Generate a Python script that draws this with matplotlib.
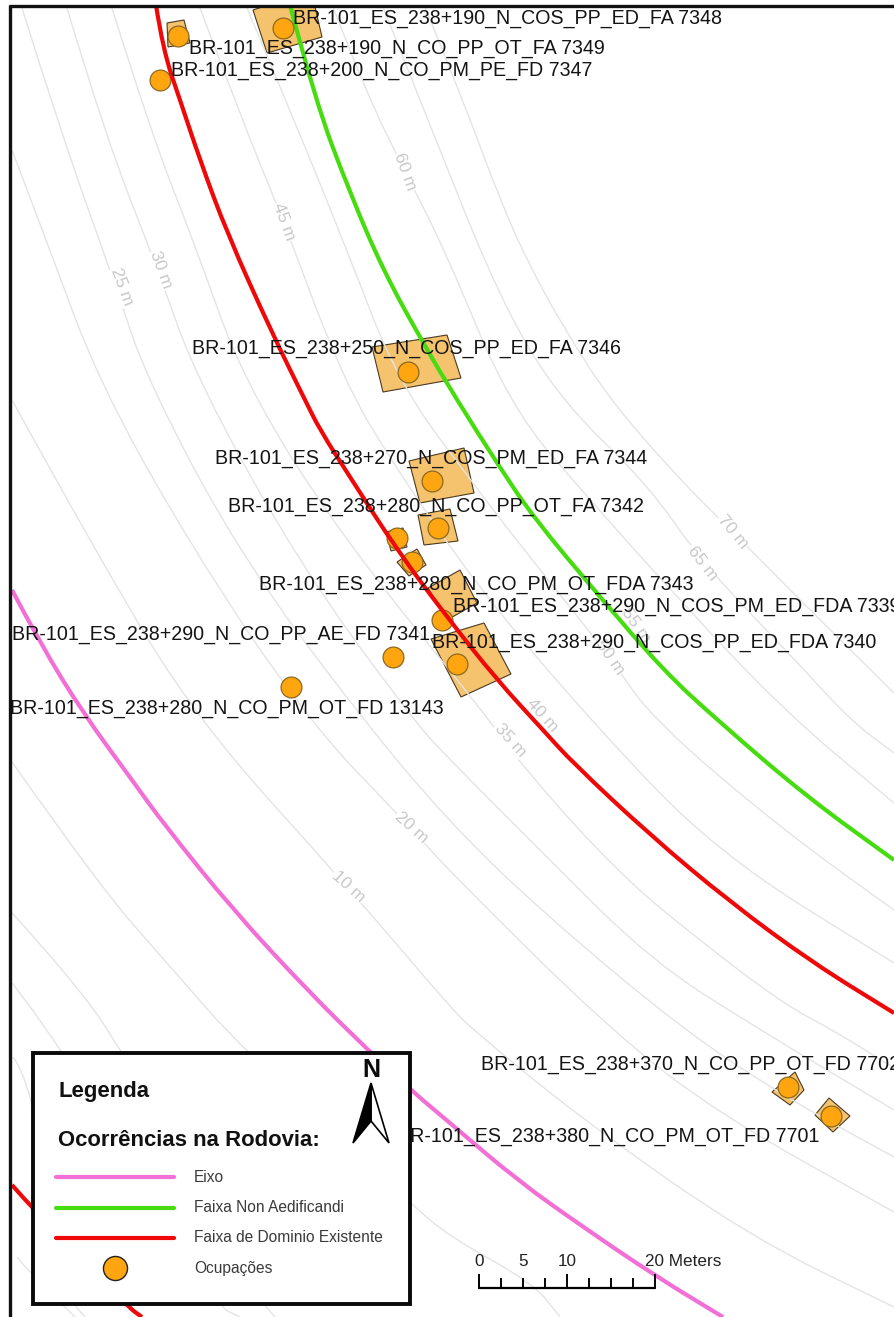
import matplotlib
matplotlib.use("Agg")
import matplotlib.pyplot as plt
from matplotlib.patches import Polygon, Rectangle, PathPatch
from matplotlib.path import Path

plt.rcParams['font.family'] = ['Liberation Sans', 'DejaVu Sans']

# Map geometry in image pixels
eixo = [(12,590),(40,643),(83,713),(132,780),(163,823),(233,910),(310,993),(368,1050),(413,1092),(450,1123),(517,1180),(583,1227),(657,1277),(723,1317)]
non_aedificandi = [(290,5),(315,100),(350,193),(383,270),(423,343),(457,400),(497,463),(533,517),(600,597),(663,670),(717,720),(807,797),(894,860)]
dominio = [(156,5),(163,50),(180,100),(200,160),(227,233),(272,333),(305,400),(320,430),(350,477),(397,550),(447,617),(497,680),(543,730),(573,763),(650,835),(730,902),(813,963),(894,1013)]
dominio_sul = [(12,1185),(32,1208),(128,1307),(142,1317)]

contours = [
    [(12,400),(100,560),(197,720),(348,887),(450,1007),(473,1030),(583,1120),(750,1237),(894,1307)],
    [(12,150),(50,250),(98,380),(190,545),(307,720),(411,828),(450,872),(610,1030),(720,1115),(894,1212)],
    [(22,8),(60,130),(116,287),(147,380),(240,555),(363,720),(450,823),(540,910),(683,1030),(790,1100),(894,1157)],
    [(67,8),(105,135),(158,270),(197,380),(300,565),(413,720),(450,760),(540,850),(650,960),(760,1030),(894,1110)],
    [(112,8),(150,130),(195,245),(243,380),(340,535),(490,720),(517,760),(615,870),(695,937),(785,1005),(833,1030),(894,1068)],
    [(200,8),(240,115),(284,222),(343,380),(397,470),(480,590),(590,720),(717,853),(894,963)],
    [(247,8),(290,110),(345,245),(397,380),(470,480),(540,570),(610,657),(653,720),(783,830),(894,910)],
    [(333,7),(365,90),(405,172),(445,250),(510,407),(590,500),(675,595),(783,710),(894,803)],
    [(383,7),(430,125),(500,300),(560,400),(647,483),(702,563),(800,665),(850,720),(894,753)],
    [(425,7),(463,100),(500,200),(530,267),(567,333),(610,400),(680,480),(733,532),(800,600),(894,693)],
    [(12,762),(100,887),(167,963),(243,1050),(410,1203),(450,1237),(533,1283),(560,1317)],
    [(12,913),(67,973),(123,1050),(260,1300),(275,1317)],
    [(12,983),(65,1050),(215,1305),(240,1317)],
    [(13,1057),(30,1077),(70,1300),(85,1317)],
    [(17,1257),(30,1273),(75,1317)],
]
contour_labels = ["25 m","30 m","45 m","60 m","70 m","65 m","55 m","50 m","40 m","35 m","20 m","10 m"]
contour_label_x = [122,161,284,405,733,702,636,610,542,510,411,348]
contour_label_y = [287,270,222,172,532,563,625,657,715,740,828,887]
contour_label_rot = [-70,-70,-70,-70,-50,-52,-55,-55,-48,-48,-42,-42]

buildings = [
    [(167,23),(184,20),(190,43),(168,47)],
    [(253,10),(262,7),(315,7),(322,37),(267,53)],
    [(372,347),(447,335),(461,378),(383,392)],
    [(409,461),(464,448),(474,493),(420,503)],
    [(418,515),(450,509),(458,541),(424,545)],
    [(386,532),(403,528),(407,547),(391,551)],
    [(397,562),(417,549),(426,565),(409,576)],
    [(428,588),(460,570),(477,603),(447,620)],
    [(431,639),(484,623),(511,674),(461,697)],
    [(772,1092),(795,1072),(804,1090),(790,1105)],
    [(815,1115),(829,1098),(850,1116),(833,1132)],
]
occ_x = [178,283,160,408,432,438,397,412,442,393,291,457,788,831]
occ_y = [36,28,80,372,481,528,538,562,620,657,687,664,1087,1116]

site_labels = [
    "BR-101_ES_238+190_N_COS_PP_ED_FA 7348",
    "BR-101_ES_238+190_N_CO_PP_OT_FA 7349",
    "BR-101_ES_238+200_N_CO_PM_PE_FD 7347",
    "BR-101_ES_238+250_N_COS_PP_ED_FA 7346",
    "BR-101_ES_238+270_N_COS_PM_ED_FA 7344",
    "BR-101_ES_238+280_N_CO_PP_OT_FA 7342",
    "BR-101_ES_238+280_N_CO_PM_OT_FDA 7343",
    "BR-101_ES_238+290_N_COS_PM_ED_FDA 7339",
    "BR-101_ES_238+290_N_COS_PP_ED_FDA 7340",
    "BR-101_ES_238+290_N_CO_PP_AE_FD 7341",
    "BR-101_ES_238+280_N_CO_PM_OT_FD 13143",
    "BR-101_ES_238+370_N_CO_PP_OT_FD 7702",
    "BR-101_ES_238+380_N_CO_PM_OT_FD 7701",
    "BR-101_ES_238+390",
]
site_x = [293,189,171,192,215,228,259,453,432,12,10,481,397,892]
site_y = [18,49,71,349,459,507,584,606,643,634,708,1065,1136,1155]

legend_names = ["Eixo","Faixa Non Aedificandi","Faixa de Dominio Existente","Ocupações"]
legend_y = [1177,1208,1238,1268]
scale_ticks = [0,2.5,5,7.5,10,12.5,15,17.5,20]
scale_labels = ["0","5","10","20 Meters"]

PINK, GREEN, RED = '#F26FD6', '#46DC10', '#EE0808'
ORANGE, EDGE = '#FFA50F', '#8A6A20'
GRAY = '#E4E4E4'

fig = plt.figure(figsize=(8.94, 13.17), dpi=100)
ax = fig.add_axes([0, 0, 1, 1])
ax.set_xlim(0, 894)
ax.set_ylim(1317, 0)
ax.axis('off')
clip = Rectangle((10, 6), 884, 1311, transform=ax.transData)

def path(pts, color, lw, zorder):
    # rendered as a smooth curve through the read points
    verts = [pts[0]]
    codes = [Path.MOVETO]
    for i in range(1, len(pts) - 1):
        mid = ((pts[i][0] + pts[i + 1][0]) / 2, (pts[i][1] + pts[i + 1][1]) / 2)
        verts += [pts[i], mid]
        codes += [Path.CURVE3, Path.CURVE3]
    verts.append(pts[-1])
    codes.append(Path.LINETO)
    patch = PathPatch(Path(verts, codes), fc='none', ec=color, lw=lw, zorder=zorder, capstyle='butt')
    ax.add_patch(patch)
    patch.set_clip_path(clip)

for b in buildings:
    pg = Polygon(b, closed=True, fc='#F5C26E', ec='#4A3A20', lw=0.8, zorder=2)
    ax.add_patch(pg)
    pg.set_clip_path(clip)
for c in contours:
    path(c, GRAY, 1.0, 3)
for t, x, y, r in zip(contour_labels, contour_label_x, contour_label_y, contour_label_rot):
    ax.text(x, y, t, color='#C8C8C8', fontsize=12.5, rotation=r, ha='center', va='center', zorder=3.5,
            rotation_mode='anchor', bbox=dict(fc='white', ec='none', pad=0.6))

path(eixo, PINK, 3.0, 4)
path(non_aedificandi, GREEN, 3.0, 4)
path(dominio, RED, 3.0, 6)
path(dominio_sul, RED, 3.0, 4)

ax.scatter(occ_x, occ_y, s=225, c=ORANGE, edgecolors=EDGE, linewidths=0.9, zorder=5)

for t, x, y in zip(site_labels, site_x, site_y):
    ax.text(x, y, t, color='#141414', fontsize=14.15, ha='left', va='center', zorder=7, clip_on=True)

# frame
ax.plot([10, 10], [5, 1317], color='#111111', lw=2.4, zorder=8, solid_capstyle='butt')
ax.plot([9, 894], [6, 6], color='#111111', lw=2.4, zorder=8, solid_capstyle='butt')

# legend box
ax.add_patch(Rectangle((33, 1053), 377, 251, fc='white', ec='#0A0A0A', lw=2.8, zorder=9))
ax.text(58, 1091, "Legenda", fontsize=15.9, fontweight='bold', color='#111111', va='center', zorder=10)
ax.text(58, 1141, "Ocorrências na Rodovia:", fontsize=15.9, fontweight='bold', color='#111111', va='center', zorder=10)
for name, y, col in zip(legend_names[:3], legend_y[:3], [PINK, GREEN, RED]):
    ax.plot([56, 174], [y, y], color=col, lw=3.0, zorder=10, solid_capstyle='round')
ax.scatter([115], [legend_y[3]], s=300, c=ORANGE, edgecolors='#222222', linewidths=1.0, zorder=10)
for name, y in zip(legend_names, legend_y):
    ax.text(194, y, name, fontsize=11.2, color='#3A3A3A', va='center', zorder=10)

# north arrow
ax.text(371, 1070, "N", fontsize=18, fontweight='bold', color='#0A0A0A', ha='center', va='center', zorder=10)
ax.add_patch(Polygon([(371,1083),(389,1143),(371,1121)], closed=True, fc='white', ec='black', lw=1.2, zorder=10))
ax.add_patch(Polygon([(371,1083),(353,1143),(371,1121)], closed=True, fc='black', ec='black', lw=1.2, zorder=10))

# scale bar
sx = [479 + v * 8.8 for v in scale_ticks]
ax.plot([sx[0], sx[-1]], [1288, 1288], color='black', lw=1.6, zorder=8, solid_capstyle='butt')
for i, x in enumerate(sx):
    top = 1275 if i in (0, 4, 8) else 1279
    ax.plot([x, x], [top, 1288], color='black', lw=1.4, zorder=8)
for t, x, ha in zip(scale_labels, [sx[0], sx[2], sx[4], sx[8] - 10], ['center', 'center', 'center', 'left']):
    ax.text(x, 1262, t, fontsize=12.3, color='#222222', ha=ha, va='center', zorder=8)

fig.savefig("out.png", dpi=100, facecolor='white')
